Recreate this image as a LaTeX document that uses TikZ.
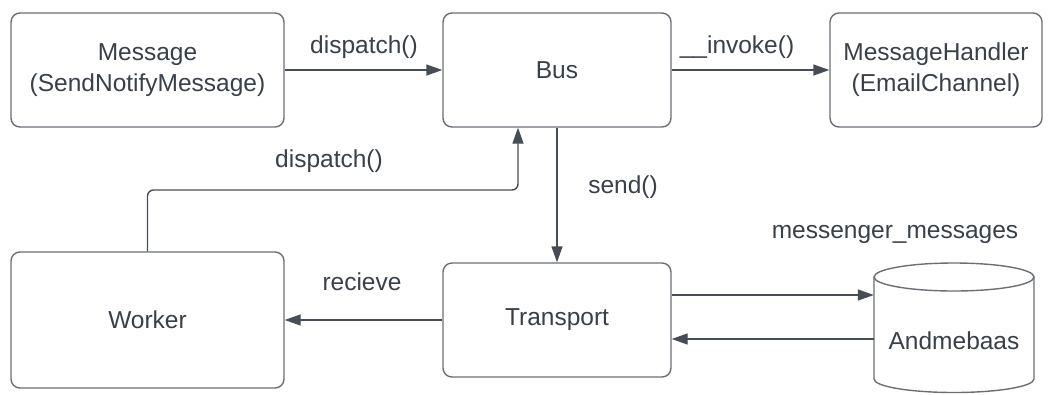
\documentclass[tikz,border=0pt]{standalone}
\usepackage{fontspec}
\setmainfont{Liberation Sans}
\usetikzlibrary{arrows.meta,calc}
\definecolor{txt}{HTML}{3A4049}
\definecolor{boxline}{HTML}{6B6F75}
\definecolor{conn}{HTML}{474D56}
\begin{document}
\begin{tikzpicture}[x=1pt,y=-1pt,
  font=\fontsize{24.5}{31}\selectfont,
  every node/.style={text=txt},
  box/.style={draw=boxline, line width=1.4pt, rounded corners=9pt, fill=white, align=center, inner sep=0pt},
  conn/.style={draw=conn, line width=1.4pt, -{Triangle[length=16pt,width=11pt]}},
  lbl/.style={anchor=base, inner sep=0pt}
]
\useasboundingbox[fill=white] (0,0) rectangle (1048,394);

\node[box, minimum width=273pt, minimum height=114pt] (msg) at (147.5,70) {Message\\(SendNotifyMessage)};
\node[box, minimum width=228pt, minimum height=114pt] (bus) at (557,70) {Bus};
\node[box, minimum width=212pt, minimum height=114pt] (mh) at (936,70) {MessageHandler\\(EmailChannel)};
\node[box, minimum width=273pt, minimum height=136pt] (worker) at (147.5,320) {Worker};
\node[box, minimum width=228pt, minimum height=114pt] (tr) at (557,320) {Transport};

% database cylinder
\node[minimum width=160pt, minimum height=130pt, inner sep=0pt] (db) at (954,328) {};
\draw[draw=boxline, line width=1.4pt, fill=white] (874,277) -- (874,379) arc[start angle=180, end angle=360, x radius=80pt, y radius=13.5pt] -- (1034,277);
\draw[draw=boxline, line width=1.4pt, fill=white] (954,277) ellipse [x radius=80pt, y radius=14pt];
\node[lbl] (dbtext) at (954,349) {Andmebaas};

% connectors
\draw[conn] (msg.east) -- (bus.west);
\draw[conn] (bus.east) -- (mh.west);
\draw[conn] (bus.south) -- (tr.north);
\draw[conn] (tr.west) -- (worker.east);
\coordinate (wb) at (518,190);
\draw[conn, rounded corners=6pt] (worker.north) |- (wb) -- (wb |- bus.south);
\coordinate (tu) at (0,295);
\coordinate (tl) at (0,339);
\draw[conn] (tr.east |- tu) -- (db.west |- tu);
\draw[conn] (db.west |- tl) -- (tr.east |- tl);

% labels
\node[lbl] (l1) at (364,53) {dispatch()};
\node[lbl] (l2) at (737,53) {\_\_invoke()};
\node[lbl] (l3) at (329,167) {dispatch()};
\node[lbl] (l4) at (623,193) {send()};
\node[lbl] (l5) at (362,290) {recieve};
\node[lbl] (l6) at (895,238) {messenger\_messages};
\end{tikzpicture}
\end{document}
